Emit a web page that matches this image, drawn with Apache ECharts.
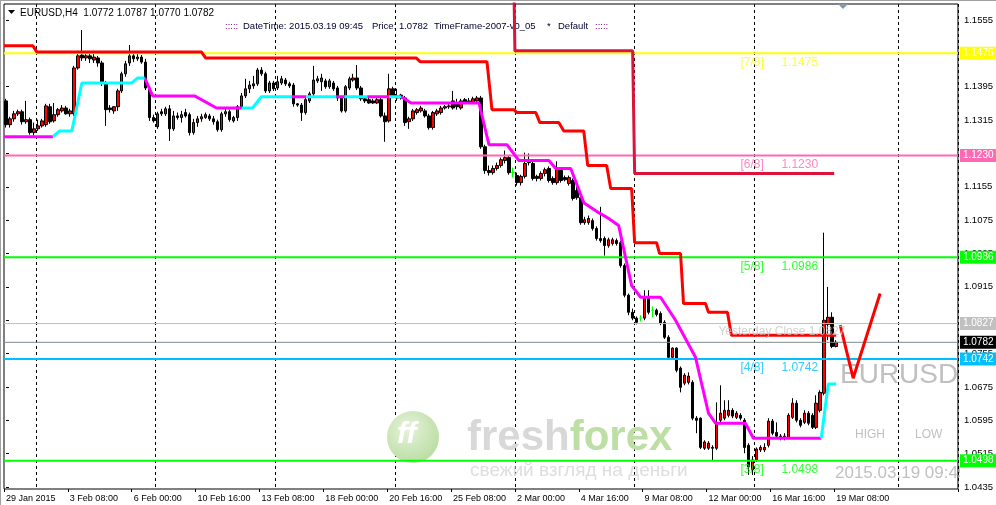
<!DOCTYPE html>
<html>
<head>
<meta charset="utf-8">
<script src="https://cdn.jsdelivr.net/npm/echarts@6/dist/echarts.min.js"></script>
<style>
html,body{margin:0;padding:0;background:#fff;}
#chart{width:996px;height:505px;}
</style>
</head>
<body>
<div id="chart"></div>
<script>
// EURUSD H4 bars, 29 Jan 2015 16:00 .. 19 Mar 2015 08:00
const opens = [
1.1361,1.1304,1.1318,1.1330,1.1335,1.1311,1.1316,1.1285,1.1294,1.1301,
1.1304,1.1347,1.1313,1.1328,1.1337,1.1344,1.1330,1.1330,1.1440,1.1471,
1.1464,1.1469,1.1459,1.1464,1.1452,1.1404,1.1344,1.1337,1.1347,1.1385,
1.1426,1.1452,1.1469,1.1462,1.1466,1.1454,1.1392,1.1321,1.1299,1.1335,
1.1330,1.1342,1.1294,1.1325,1.1321,1.1333,1.1328,1.1285,1.1309,1.1318,
1.1321,1.1325,1.1318,1.1311,1.1292,1.1330,1.1335,1.1313,1.1321,1.1347,
1.1373,1.1390,1.1397,1.1402,1.1435,1.1426,1.1385,1.1404,1.1392,1.1404,
1.1411,1.1402,1.1399,1.1354,1.1351,1.1333,1.1361,1.1378,1.1409,1.1407,
1.1409,1.1395,1.1404,1.1392,1.1368,1.1337,1.1392,1.1411,1.1416,1.1392,
1.1366,1.1364,1.1361,1.1356,1.1364,1.1325,1.1313,1.1390,1.1373,1.1375,
1.1368,1.1311,1.1318,1.1333,1.1337,1.1337,1.1325,1.1297,1.1330,1.1333,
1.1344,1.1347,1.1361,1.1356,1.1344,1.1364,1.1361,1.1358,1.1361,1.1368,
1.1251,1.1194,1.1189,1.1199,1.1206,1.1218,1.1225,1.1189,1.1182,1.1165,
1.1180,1.1218,1.1211,1.1180,1.1175,1.1187,1.1199,1.1175,1.1165,1.1194,
1.1177,1.1163,1.1170,1.1146,1.1129,1.1069,1.1069,1.1074,1.1055,1.1031,
1.1031,1.1014,1.1019,1.1026,1.1021,1.0966,1.0895,1.0854,1.0840,1.0840,
1.0840,1.0887,1.0859,1.0859,1.0851,1.0830,1.0794,1.0746,1.0768,1.0720,
1.0684,1.0686,1.0686,1.0600,1.0600,1.0528,1.0528,1.0530,1.0528,1.0595,
1.0600,1.0607,1.0619,1.0602,1.0607,1.0595,1.0535,1.0476,1.0500,1.0524,
1.0524,1.0535,1.0593,1.0566,1.0557,1.0552,1.0554,1.0602,1.0636,1.0595,
1.0590,1.0612,1.0607,1.0578,1.0619,1.0660,1.0825,1.0842,1.0772];
const closes = [
1.1304,1.1318,1.1330,1.1335,1.1311,1.1316,1.1285,1.1294,1.1301,1.1313,
1.1349,1.1311,1.1328,1.1340,1.1344,1.1330,1.1337,1.1440,1.1469,1.1464,
1.1469,1.1462,1.1466,1.1452,1.1404,1.1340,1.1340,1.1347,1.1385,1.1426,
1.1450,1.1469,1.1462,1.1466,1.1454,1.1392,1.1321,1.1313,1.1330,1.1330,
1.1342,1.1294,1.1325,1.1321,1.1328,1.1325,1.1285,1.1309,1.1318,1.1323,
1.1328,1.1318,1.1311,1.1292,1.1330,1.1335,1.1316,1.1321,1.1347,1.1373,
1.1390,1.1399,1.1402,1.1435,1.1426,1.1385,1.1404,1.1390,1.1407,1.1414,
1.1402,1.1397,1.1354,1.1351,1.1333,1.1364,1.1378,1.1411,1.1414,1.1416,
1.1395,1.1409,1.1390,1.1368,1.1337,1.1395,1.1414,1.1416,1.1392,1.1366,
1.1361,1.1356,1.1356,1.1364,1.1325,1.1311,1.1390,1.1373,1.1368,1.1368,
1.1309,1.1318,1.1337,1.1340,1.1344,1.1325,1.1297,1.1333,1.1337,1.1344,
1.1347,1.1349,1.1344,1.1347,1.1361,1.1356,1.1356,1.1366,1.1368,1.1251,
1.1194,1.1189,1.1199,1.1206,1.1220,1.1225,1.1189,1.1189,1.1165,1.1180,
1.1211,1.1213,1.1175,1.1175,1.1187,1.1196,1.1170,1.1165,1.1199,1.1170,
1.1172,1.1177,1.1127,1.1129,1.1069,1.1076,1.1079,1.1055,1.1031,1.1026,
1.1014,1.1028,1.1028,1.1019,1.0966,1.0895,1.0854,1.0840,1.0830,1.0840,
1.0887,1.0854,1.0859,1.0849,1.0827,1.0794,1.0746,1.0768,1.0715,1.0674,
1.0703,1.0701,1.0600,1.0595,1.0530,1.0543,1.0540,1.0528,1.0588,1.0612,
1.0619,1.0619,1.0605,1.0612,1.0600,1.0530,1.0483,1.0500,1.0526,1.0530,
1.0530,1.0593,1.0564,1.0557,1.0552,1.0557,1.0607,1.0636,1.0595,1.0583,
1.0612,1.0588,1.0578,1.0636,1.0662,1.0835,1.0842,1.0772,1.0782];
const highs = [
1.1366,1.1323,1.1337,1.1340,1.1340,1.1361,1.1321,1.1309,1.1316,1.1318,
1.1354,1.1354,1.1356,1.1344,1.1351,1.1349,1.1342,1.1445,1.1481,1.1531,
1.1476,1.1474,1.1481,1.1469,1.1457,1.1409,1.1351,1.1349,1.1390,1.1431,
1.1457,1.1495,1.1476,1.1474,1.1471,1.1462,1.1397,1.1328,1.1335,1.1342,
1.1347,1.1351,1.1337,1.1333,1.1337,1.1342,1.1333,1.1318,1.1325,1.1330,
1.1333,1.1330,1.1325,1.1316,1.1335,1.1342,1.1340,1.1325,1.1351,1.1380,
1.1414,1.1409,1.1421,1.1440,1.1442,1.1431,1.1409,1.1409,1.1421,1.1421,
1.1416,1.1407,1.1404,1.1356,1.1356,1.1368,1.1383,1.1445,1.1421,1.1426,
1.1414,1.1414,1.1409,1.1397,1.1373,1.1399,1.1419,1.1426,1.1447,1.1397,
1.1371,1.1368,1.1366,1.1368,1.1368,1.1333,1.1426,1.1395,1.1390,1.1378,
1.1373,1.1323,1.1342,1.1344,1.1349,1.1342,1.1330,1.1337,1.1342,1.1349,
1.1351,1.1354,1.1385,1.1366,1.1366,1.1368,1.1368,1.1371,1.1373,1.1373,
1.1256,1.1206,1.1206,1.1213,1.1225,1.1242,1.1230,1.1201,1.1189,1.1184,
1.1237,1.1235,1.1216,1.1184,1.1192,1.1201,1.1204,1.1180,1.1216,1.1199,
1.1182,1.1182,1.1175,1.1156,1.1134,1.1083,1.1086,1.1079,1.1060,1.1107,
1.1036,1.1033,1.1033,1.1031,1.1026,1.0971,1.0899,1.0863,1.0844,1.0847,
1.0907,1.0907,1.0868,1.0863,1.0856,1.0835,1.0799,1.0770,1.0770,1.0724,
1.0708,1.0710,1.0691,1.0605,1.0602,1.0547,1.0545,1.0535,1.0638,1.0679,
1.0643,1.0643,1.0624,1.0617,1.0612,1.0600,1.0540,1.0509,1.0530,1.0535,
1.0540,1.0600,1.0598,1.0590,1.0562,1.0564,1.0612,1.0648,1.0643,1.0600,
1.0619,1.0617,1.0612,1.0655,1.0667,1.1045,1.0915,1.0854,1.0787];
const lows = [
1.1297,1.1297,1.1311,1.1325,1.1304,1.1306,1.1280,1.1278,1.1289,1.1297,
1.1299,1.1306,1.1309,1.1323,1.1333,1.1328,1.1323,1.1325,1.1436,1.1457,
1.1457,1.1452,1.1452,1.1443,1.1397,1.1301,1.1333,1.1330,1.1337,1.1380,
1.1419,1.1445,1.1454,1.1457,1.1450,1.1387,1.1313,1.1309,1.1294,1.1325,
1.1325,1.1265,1.1289,1.1316,1.1309,1.1321,1.1278,1.1280,1.1299,1.1311,
1.1318,1.1313,1.1304,1.1287,1.1287,1.1323,1.1311,1.1309,1.1313,1.1342,
1.1368,1.1380,1.1390,1.1397,1.1421,1.1380,1.1380,1.1385,1.1387,1.1399,
1.1397,1.1392,1.1347,1.1347,1.1313,1.1328,1.1356,1.1373,1.1404,1.1385,
1.1390,1.1390,1.1385,1.1361,1.1333,1.1333,1.1387,1.1407,1.1387,1.1361,
1.1356,1.1354,1.1354,1.1354,1.1321,1.1263,1.1309,1.1368,1.1361,1.1364,
1.1301,1.1294,1.1313,1.1328,1.1333,1.1321,1.1292,1.1292,1.1325,1.1328,
1.1340,1.1342,1.1340,1.1340,1.1340,1.1354,1.1354,1.1354,1.1356,1.1246,
1.1186,1.1182,1.1184,1.1194,1.1201,1.1211,1.1184,1.1177,1.1158,1.1158,
1.1175,1.1206,1.1170,1.1168,1.1170,1.1180,1.1165,1.1160,1.1160,1.1165,
1.1168,1.1158,1.1122,1.1124,1.1064,1.1064,1.1064,1.1050,1.1026,1.1021,
1.0990,1.1009,1.1014,1.1014,1.0961,1.0890,1.0847,1.0835,1.0825,1.0832,
1.0835,1.0849,1.0842,1.0844,1.0823,1.0790,1.0742,1.0742,1.0710,1.0662,
1.0679,1.0681,1.0595,1.0564,1.0526,1.0524,1.0524,1.0497,1.0524,1.0590,
1.0595,1.0602,1.0600,1.0598,1.0595,1.0516,1.0464,1.0464,1.0495,1.0519,
1.0519,1.0530,1.0559,1.0552,1.0547,1.0547,1.0550,1.0598,1.0590,1.0578,
1.0586,1.0583,1.0574,1.0574,1.0614,1.0655,1.0787,1.0768,1.0770];

const slotCount = 239;              // bar slots across the window, incl. right shift
const labelEvery = 16;              // time label every 16 bars
const weekStarts = [8, 38, 68, 98, 128, 158, 188, 224];
const yTicks = [1.1555,1.1475,1.1395,1.1315,1.1235,1.1155,1.1075,1.0995,1.0915,1.0835,1.0755,1.0675,1.0595,1.0515,1.0435];

// Murrey levels
const levelNames = ['[7/8]', '[6/8]', '[5/8]', '[4/8]', '[3/8]'];
const levelValues = [1.1475, 1.1230, 1.0986, 1.0742, 1.0498];
const levelColors = ['#ffff00', '#ff69b4', '#00ff00', '#00bfff', '#00ff00'];
const yesterdayClose = 1.0827;
const lastPrice = 1.0782;

// indicator lines as [bar index, price]
const stopLine = [[-0.5,1.1493],[6.75,1.1493],[7.75,1.1478],[49,1.1478],[50,1.1464],[102.75,1.1464],[103.75,1.1455],[120.5,1.1455],[121.75,1.1340],[127.25,1.1340],[128,1.1333],[132.75,1.1333],[133.75,1.1309],[138.5,1.1309],[139.75,1.1289],[144.75,1.1289],[145.75,1.1206],[150.5,1.1206],[151.5,1.1151],[156.75,1.1151],[157.5,1.1021],[163,1.1021],[163.75,1.0995],[169,1.0995],[169.75,1.0875],[175.25,1.0875],[176,1.0854],[180.75,1.0854],[181.75,1.0799],[208,1.0799]];
const upperStop = [[127.25,1.1640],[127.5,1.1481],[157,1.1481],[157.5,1.1187],[207.5,1.1187]];
const trendDown = [
  [[-0.5,1.1275],[11.75,1.1275]],
  [[34.75,1.1416],[36.75,1.1373],[47.25,1.1373],[52.75,1.1344],[59,1.1344]],
  [[71.5,1.1371],[75.25,1.1371]],
  [[82.75,1.1371],[84.75,1.1371]],
  [[90.5,1.1371],[96,1.1371]],
  [[99,1.1371],[101.5,1.1356],[118.5,1.1356],[121,1.1256],[125.5,1.1256],[128.5,1.1218],[136,1.1218],[137.75,1.1199],[141.5,1.1199],[144.75,1.1117],[148.5,1.1093],[151,1.1079],[153.5,1.1062],[156.75,1.0918],[159,1.0890],[164,1.0890],[167.75,1.0835],[172.75,1.0746],[176,1.0612],[177.75,1.0588],[185.25,1.0588],[187.25,1.0552],[204.25,1.0552]]
];
const trendUp = [
  [[11.75,1.1275],[13.5,1.1289],[16.5,1.1289],[19,1.1404],[31.5,1.1404],[33,1.1416],[34.75,1.1416]],
  [[59,1.1344],[61.75,1.1344],[64,1.1371],[71.5,1.1371]],
  [[75.25,1.1371],[82.75,1.1371]],
  [[84.75,1.1371],[90.5,1.1371]],
  [[96,1.1371],[99,1.1371]],
  [[204.25,1.0552],[206,1.0682],[208,1.0682]]
];
const forecastArrow = [[209,1.0823],[212.25,1.0696],[219,1.0899]];

const months = ['Jan','Feb','Mar','Apr','May','Jun','Jul','Aug','Sep','Oct','Nov','Dec'];
const categories = [];
let t = Date.UTC(2015, 0, 29, 16);
while (categories.length < slotCount) {
  const d = new Date(t);
  const wd = d.getUTCDay();
  if (wd !== 0 && wd !== 6) {
    const hh = String(d.getUTCHours()).padStart(2, '0');
    categories.push(categories.length === 0
      ? d.getUTCDate() + ' ' + months[d.getUTCMonth()] + ' ' + d.getUTCFullYear()
      : d.getUTCDate() + ' ' + months[d.getUTCMonth()] + ' ' + hh + ':00');
  }
  t += 4 * 3600 * 1000;
}

const candles = opens.map((o, i) => [o, closes[i], lows[i], highs[i]]);
const font = '"Liberation Sans", Arial, sans-serif';

// horizontal price line with a coloured price tag at the right
const levelLine = (v, color, bg, width) => ({
  type: 'line', xAxisIndex: 1, yAxisIndex: 0,
  data: [[-0.5, v], [slotCount - 0.5, v]],
  showSymbol: false, symbol: 'none', silent: true, z: 3, clip: false,
  lineStyle: { color: color, width: width },
  endLabel: {
    show: true, distance: 2, formatter: v.toFixed(4),
    backgroundColor: bg, color: '#fff', padding: [2, 3, 1, 3],
    fontSize: 10, fontFamily: font
  },
  animation: false
});

const lineSeries = (data, color) => ({
  type: 'line', xAxisIndex: 1, yAxisIndex: 0, data: data,
  showSymbol: false, symbol: 'none', silent: true, z: 4,
  lineStyle: { color: color, width: 3 }, animation: false
});

const series = [
  {
    type: 'candlestick', data: candles, barWidth: 3, silent: true, z: 2,
    itemStyle: {
      color: '#ff0000', color0: '#000000',
      borderColor: '#000000', borderColor0: '#000000',
      borderColorDoji: '#00ff00', borderWidth: 1
    },
    animation: false
  },
  levelLine(yesterdayClose, '#c0c0c0', '#c0c0c0', 1),
  levelLine(lastPrice, '#808890', '#000000', 1)
];
levelValues.forEach((v, i) => series.push(levelLine(v, levelColors[i], levelColors[i], 2)));
series.push(lineSeries(upperStop, '#dc143c'));
series.push(lineSeries(stopLine, '#ff0000'));
trendDown.forEach(s => series.push(lineSeries(s, '#ff00ff')));
trendUp.forEach(s => series.push(lineSeries(s, '#00ffff')));
series.push(lineSeries(forecastArrow, '#ff0000'));

// level captions
series.push({
  type: 'scatter', xAxisIndex: 1, yAxisIndex: 0, symbolSize: 0, silent: true, z: 5,
  data: levelValues.map((v, i) => ({
    value: [184, v],
    label: {
      show: true, position: [0, 3], align: 'left', verticalAlign: 'top',
      formatter: '{a|' + levelNames[i] + '}{b|' + v.toFixed(4) + '}',
      rich: {
        a: { color: levelColors[i], fontSize: 12, fontFamily: font, width: 41 },
        b: { color: levelColors[i], fontSize: 12, fontFamily: font }
      }
    }
  })).concat([{
    value: [178.5, yesterdayClose],
    label: {
      show: true, position: [0, 2], align: 'left', verticalAlign: 'top',
      formatter: 'Yesterday Close ' + yesterdayClose.toFixed(4),
      color: '#c4c4c4', fontSize: 12, fontFamily: font
    }
  }]),
  animation: false
});

const hdr = (x, text, color) => ({ type: 'text', z: 1, x: x, y: 21, style: { text: text, font: '9.5px "Liberation Sans"', fill: color } });

const chart = echarts.init(document.getElementById('chart'), null, { renderer: 'canvas' });
chart.setOption({
  animation: false,
  backgroundColor: '#ffffff',
  grid: { left: 4, top: 4, width: 955, height: 485, show: true, borderColor: '#000', borderWidth: 1, backgroundColor: 'transparent' },
  xAxis: [{
    type: 'category', data: categories, boundaryGap: true,
    axisLine: { show: false },
    axisTick: { show: true, length: 3, interval: i => i % labelEvery === 0 && i <= 208, lineStyle: { color: '#000' } },
    axisLabel: { interval: i => i % labelEvery === 0 && i <= 208, align: 'left', color: '#000', fontSize: 9, fontFamily: font, margin: 5 },
    splitLine: { show: true, interval: i => weekStarts.indexOf(i) >= 0, lineStyle: { color: '#000', width: 1, type: [3, 3] } }
  }, {
    type: 'value', min: -0.5, max: slotCount - 0.5, show: false
  }],
  yAxis: {
    type: 'value', position: 'right', min: 1.04302, max: 1.15934,
    splitLine: { show: false },
    axisLine: { show: false },
    axisTick: { show: true, length: 3, customValues: yTicks, lineStyle: { color: '#000' } },
    axisLabel: { customValues: yTicks, formatter: v => v.toFixed(4), color: '#000', fontSize: 9.5, fontFamily: font, margin: 6 }
  },
  graphic: [
    { type: 'rect', z: 1, shape: { x: 0, y: 0, width: 996, height: 1 }, style: { fill: '#a0a0a0' } },
    { type: 'rect', z: 1, shape: { x: 0, y: 0, width: 1, height: 505 }, style: { fill: '#a0a0a0' } },
    // watermark
    { type: 'circle', z: 1, shape: { cx: 413, cy: 437, r: 26 },
      style: { fill: new echarts.graphic.RadialGradient(0.4, 0.35, 0.7, [{ offset: 0, color: '#e6f3dc' }, { offset: 1, color: '#b9dca0' }]) } },
    { type: 'text', z: 1, x: 397, y: 420, style: { text: 'ff', font: 'italic bold 30px "Liberation Sans"', fill: '#ffffff' } },
    { type: 'text', z: 1, x: 467, y: 417, style: { text: '{a|fresh}{b|forex}', rich: {
      a: { font: 'bold 42px "Liberation Sans"', fill: '#d8d8d8' },
      b: { font: 'bold 42px "Liberation Sans"', fill: '#bddfa5' } } } },
    { type: 'text', z: 1, x: 470, y: 461, style: { text: 'свежий взгляд на деньги', font: '19px "Liberation Sans"', fill: '#dedede' } },
    // chart texts
    { type: 'text', z: 1, x: 840, y: 361, style: { text: 'EURUSD', font: '28px "Liberation Sans"', fill: '#c0c0c0' } },
    { type: 'text', z: 1, x: 855, y: 429, style: { text: 'HIGH', font: '12px "Liberation Sans"', fill: '#c0c0c0' } },
    { type: 'text', z: 1, x: 915, y: 429, style: { text: 'LOW', font: '12px "Liberation Sans"', fill: '#c0c0c0' } },
    { type: 'text', z: 1, x: 835, y: 465, style: { text: '2015.03.19 09:45', font: '17px "Liberation Sans"', fill: '#c0c0c0' } },
    { type: 'rect', z: 1, shape: { x: 960, y: 468, width: 36, height: 13 }, style: { fill: '#ffffff' } },
    // header
    { type: 'polygon', z: 1, shape: { points: [[8, 10], [15, 10], [11.5, 14]] }, style: { fill: '#000' } },
    { type: 'text', z: 1, x: 20, y: 8, style: { text: 'EURUSD,H4  1.0772 1.0787 1.0770 1.0782', font: '10px "Liberation Sans"', fill: '#000' } },
    hdr(225, ':::::', '#800080'),
    hdr(243, 'DateTime: 2015.03.19 09:45', '#000033'),
    hdr(372, 'Price: 1.0782', '#000033'),
    hdr(434, 'TimeFrame-2007-v0_05', '#000033'),
    hdr(547, '*', '#000033'),
    hdr(558, 'Default', '#000033'),
    hdr(595, ':::::', '#800080'),
    { type: 'polygon', z: 1, shape: { points: [[838, 4], [848, 4], [843, 9]] }, style: { fill: '#8a98a6' } }
  ],
  series: series
});
</script>
</body>
</html>
